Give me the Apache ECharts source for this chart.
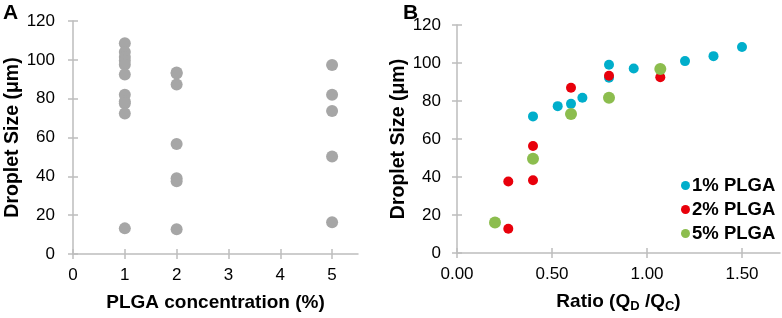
<!DOCTYPE html>
<html>
<head>
<meta charset="utf-8">
<script src="https://cdn.jsdelivr.net/npm/echarts@6/dist/echarts.min.js"></script>
<style>
html,body{margin:0;padding:0;background:#fff;}
#chart{width:782px;height:318px;}
</style>
</head>
<body>
<div id="chart"></div>
<script>
// Panel A: droplet size vs PLGA concentration
const aConc = [1,1,1,1,1,1,1,1,1,1,1, 2,2,2,2,2,2,2, 5,5,5,5,5];
const aSize = [108.5,104,101.5,99.5,97.5,92.5,82,78.5,77.5,72.3,13.2, 93.5,93,87.3,56.7,39,37.5,12.7, 97.3,82,73.7,50.2,16.4];
const aXTicks = [0,1,2,3,4,5];

// Panel B: droplet size vs ratio
const seriesNames = ['1% PLGA','2% PLGA','5% PLGA'];
const ratio1 = [0.40,0.53,0.60,0.66,0.80,0.80,0.93,1.20,1.35,1.50];
const size1  = [71.9,77.3,78.5,81.7,99.1,92.2,97.1,101,103.6,108.4];
const ratio2 = [0.27,0.27,0.40,0.40,0.60,0.80,1.07];
const size2  = [12.8,37.6,38.3,56.3,87,93.3,92.5];
const ratio5 = [0.20,0.40,0.60,0.80,1.07];
const size5  = [16.1,49.6,73.2,81.7,96.8];
const bXTicks = [0,0.5,1,1.5];

const FONT = 'Liberation Sans, Arial, sans-serif';
const AX = '#bdbdbd';
const pairs = (xs, ys) => xs.map((x,i)=>[x, ys[i]]);

function xMain(grid, min, max, ticks, name, fmt, nameGap){
  return {
    type:'value', gridIndex:grid, min:min, max:max, position:'bottom',
    axisLine:{show:true, onZero:false, lineStyle:{color:AX, width:1.5}},
    axisTick:{show:true, length:5, customValues:ticks, lineStyle:{color:AX, width:1.5}},
    axisLabel:{show:true, customValues:ticks, formatter:fmt, color:'#000', fontSize:17, fontFamily:FONT, margin:13},
    splitLine:{show:false},
    name:name, nameLocation:'middle', nameGap:nameGap,
    nameTextStyle:{color:'#000', fontSize:19, fontWeight:'bold', fontFamily:FONT}
  };
}
function xInner(grid, min, max, ticks){
  return {
    type:'value', gridIndex:grid, min:min, max:max, position:'bottom',
    axisLine:{show:false, onZero:false},
    axisTick:{show:true, inside:true, length:5, customValues:ticks, lineStyle:{color:AX, width:1.5}},
    axisLabel:{show:false}, splitLine:{show:false}
  };
}
function yMain(grid, nameGap, margin){
  return {
    type:'value', gridIndex:grid, min:0, max:120, interval:20, position:'left',
    axisLine:{show:true, onZero:false, lineStyle:{color:AX, width:1.5}},
    axisTick:{show:true, length:5, lineStyle:{color:AX, width:1.5}},
    axisLabel:{color:'#000', fontSize:17, fontFamily:FONT, margin:margin},
    splitLine:{show:false},
    name:'Droplet Size (μm)', nameLocation:'middle', nameGap:nameGap,
    nameTextStyle:{color:'#000', fontSize:19.5, fontWeight:'bold', fontFamily:FONT}
  };
}
function yInner(grid){
  return {
    type:'value', gridIndex:grid, min:0, max:120, interval:20, position:'left',
    axisLine:{show:false, onZero:false},
    axisTick:{show:true, inside:true, length:5, lineStyle:{color:AX, width:1.5}},
    axisLabel:{show:false}, splitLine:{show:false}
  };
}

const chart = echarts.init(document.getElementById('chart'), null, {renderer:'canvas'});
chart.setOption({
  animation:false,
  backgroundColor:'#fff',
  textStyle:{fontFamily:FONT},
  grid:[
    {left:73, top:21, width:285, height:233},
    {left:457, top:25, width:323, height:234}
  ],
  xAxis:[
    xMain(0, 0, 5.5, aXTicks, 'PLGA concentration (%)', v=>String(v), 39),
    xMain(1, 0, 1.7, bXTicks, '{t|Ratio (Q}{s|D}{t| /Q}{s|C}{t|)}', v=>v.toFixed(2), 38),
    xInner(0, 0, 5.5, aXTicks),
    xInner(1, 0, 1.7, bXTicks)
  ],
  yAxis:[
    yMain(0, 50, 18),
    yMain(1, 36, 16),
    yInner(0),
    yInner(1)
  ],
  legend:{
    orient:'vertical', left:676, top:171, itemGap:5,
    icon:'circle', itemWidth:9, itemHeight:9,
    data:seriesNames,
    textStyle:{color:'#000', fontSize:18.5, fontWeight:'bold', fontFamily:FONT, padding:[0,0,0,-3]}
  },
  graphic:[
    {type:'text', left:3, top:3, style:{text:'A', fontSize:21, fontWeight:'bold', fill:'#000', fontFamily:FONT}},
    {type:'text', left:403, top:3, style:{text:'B', fontSize:21, fontWeight:'bold', fill:'#000', fontFamily:FONT}}
  ],
  series:[
    {type:'scatter', name:'A', xAxisIndex:0, yAxisIndex:0, symbol:'circle', symbolSize:12,
      itemStyle:{color:'#a6a6a6', opacity:1}, data:pairs(aConc, aSize)},
    {type:'scatter', name:seriesNames[0], xAxisIndex:1, yAxisIndex:1, symbol:'circle', symbolSize:10,
      itemStyle:{color:'#00aecb', opacity:1}, data:pairs(ratio1, size1)},
    {type:'scatter', name:seriesNames[1], xAxisIndex:1, yAxisIndex:1, symbol:'circle', symbolSize:10,
      itemStyle:{color:'#e8000b', opacity:1}, data:pairs(ratio2, size2)},
    {type:'scatter', name:seriesNames[2], xAxisIndex:1, yAxisIndex:1, symbol:'circle', symbolSize:12,
      itemStyle:{color:'#8cbd4e', opacity:1}, data:pairs(ratio5, size5)}
  ]
});
// rich text for the subscripted axis name
chart.setOption({xAxis:[{},{nameTextStyle:{rich:{
  t:{fontSize:19, fontWeight:'bold', color:'#000', fontFamily:FONT},
  s:{fontSize:13, fontWeight:'bold', color:'#000', fontFamily:FONT, verticalAlign:'bottom', padding:[9,0,0,0]}
}}},{},{}]});
</script>
</body>
</html>
